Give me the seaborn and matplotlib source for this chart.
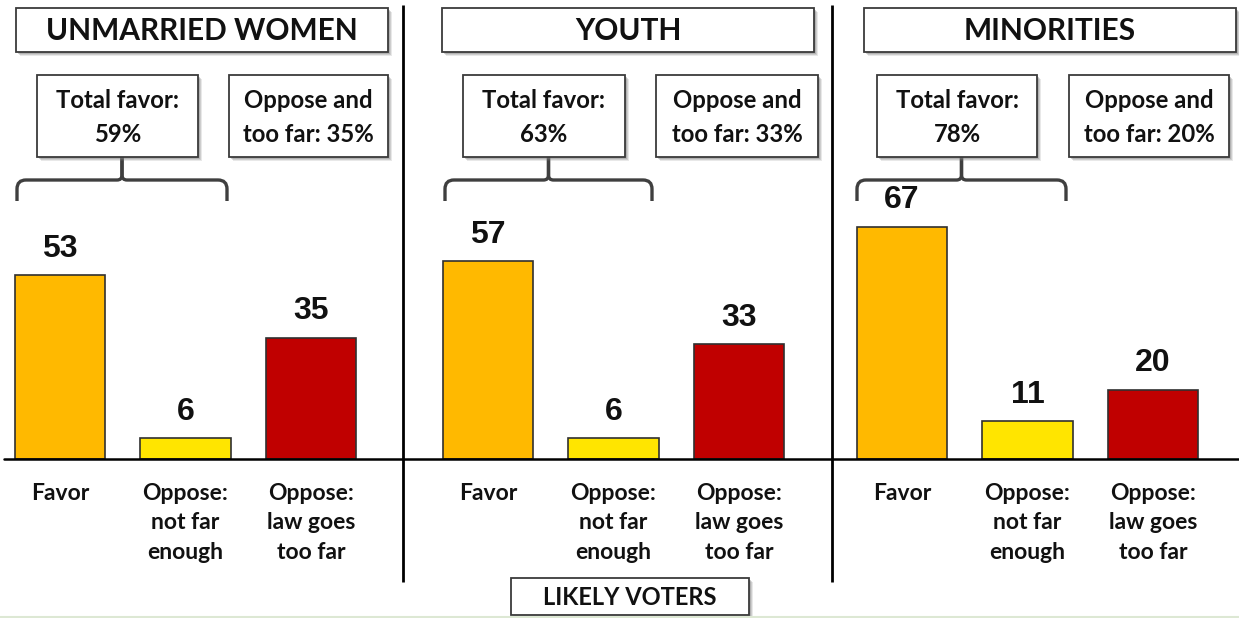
import matplotlib
matplotlib.use("Agg")
import pandas as pd
import matplotlib.pyplot as plt
from matplotlib.patches import Rectangle, PathPatch
from matplotlib.path import Path
import seaborn as sns

# ---- data -------------------------------------------------------------
groups = ["UNMARRIED WOMEN", "YOUTH", "MINORITIES"]
categories = ["Favor", "Oppose:\nnot far\nenough", "Oppose:\nlaw goes\ntoo far"]
favor = [53, 57, 67]
not_far_enough = [6, 6, 11]
goes_too_far = [35, 33, 20]
footer = "LIKELY VOTERS"
bar_colors = ["#FFB900", "#FFE500", "#C00000"]

total_favor = [a + b for a, b in zip(favor, not_far_enough)]

rows = []
for g, vals in zip(groups, zip(favor, not_far_enough, goes_too_far)):
    for c, v in zip(categories, vals):
        rows.append({"group": g, "category": c, "value": v})
df = pd.DataFrame(rows)

# ---- style ------------------------------------------------------------
sns.set_theme(style="white")
plt.rcParams["font.family"] = ["Lato", "DejaVu Sans"]
TEXT = "#111111"
EDGE = "#3a3a3a"

W, H = 1239, 618
fig = plt.figure(figsize=(W / 100, H / 100), dpi=100)
fig.patch.set_facecolor("white")

BASE = 459          # baseline row (px from top)
PX_PER_UNIT = 3.47  # vertical scale of the bars
SLOT = 125.5        # horizontal distance between bar centres (px)
# (left px, right px, centre of first bar px) of each panel
panels = [(4, 403, 60), (403, 832, 488), (832, 1239, 902)]

for g, (l, r, c0) in zip(groups, panels):
    ax = fig.add_axes([l / W, (H - BASE) / H, (r - l) / W, BASE / H])
    sub = df[df["group"] == g]
    sns.barplot(data=sub, x="category", y="value", hue="category",
                order=categories, hue_order=categories, palette=bar_colors,
                saturation=1, width=0.72, edgecolor="#303030", linewidth=1.2,
                legend=False, ax=ax)
    left = -(c0 - l) / SLOT
    ax.set_xlim(left, left + (r - l) / SLOT)
    ax.set_ylim(0, BASE / PX_PER_UNIT)
    ax.patch.set_alpha(0)
    for s in ax.spines.values():
        s.set_visible(False)
    ax.set_yticks([])
    ax.set_xlabel("")
    ax.set_ylabel("")
    ax.tick_params(axis="x", length=0, pad=17, labelsize=16.5, colors=TEXT)
    for lab in ax.get_xticklabels():
        lab.set_fontweight("bold")
        lab.set_linespacing(1.5)
    ax.axhline(0, color="black", lw=1.8, zorder=4, clip_on=False)
    for cont in ax.containers:
        ax.bar_label(cont, fmt="%d", padding=8, fontsize=23, fontweight="bold",
                     family="Liberation Sans", color=TEXT)

# ---- overlay for boxes, braces and separators (pixel coordinates) -----
ov = fig.add_axes([0, 0, 1, 1], zorder=5)
ov.set_xlim(0, W)
ov.set_ylim(H, 0)
ov.axis("off")
ov.patch.set_alpha(0)


def box(x0, y0, x1, y1, text, size, lsp=1.2, dy=0):
    for d, a in ((4, 0.18), (3, 0.25), (2, 0.35)):
        ov.add_patch(Rectangle((x0 + d, y0 + d), x1 - x0, y1 - y0,
                               facecolor="#808080", edgecolor="none", alpha=a))
    ov.add_patch(Rectangle((x0, y0), x1 - x0, y1 - y0, facecolor="white",
                           edgecolor=EDGE, lw=1.3))
    ov.text((x0 + x1) / 2, (y0 + y1) / 2 + dy, text, ha="center", va="center",
            fontsize=size, fontweight="bold", color=TEXT, linespacing=lsp)


def brace(xa, xb, ytop=157, yh=180, ybot=201, r=9, r2=5):
    xm = (xa + xb) / 2
    for x0, sgn in ((xa, 1), (xb, -1)):
        verts = [(x0, ybot), (x0, yh + r), (x0, yh), (x0 + sgn * r, yh),
                 (xm - sgn * r2, yh), (xm, yh), (xm, yh - r2), (xm, ytop)]
        codes = [Path.MOVETO, Path.LINETO, Path.CURVE3, Path.CURVE3,
                 Path.LINETO, Path.CURVE3, Path.CURVE3, Path.LINETO]
        ov.add_patch(PathPatch(Path(verts, codes), facecolor="none",
                               edgecolor="#3f3f3f", lw=2.4, capstyle="butt"))


title_boxes = [(16, 8, 388, 52), (442, 8, 814, 52), (864, 8, 1236, 52)]
favor_boxes = [(37, 75, 198, 157), (463, 75, 625, 157), (877, 75, 1037, 157)]
oppose_boxes = [(229, 75, 388, 157), (656, 75, 818, 157), (1069, 75, 1229, 157)]
braces = [(17, 227), (445, 652), (857, 1066)]

for i, g in enumerate(groups):
    box(*title_boxes[i], g, 21.5, dy=1)
    brace(*braces[i])
    box(*favor_boxes[i], f"Total favor:\n{total_favor[i]}%", 17.2, 1.62, dy=1.5)
    box(*oppose_boxes[i], f"Oppose and\ntoo far: {goes_too_far[i]}%", 17.2, 1.62, dy=1.5)

# panel separators
for x in (403, 832):
    ov.plot([x, x], [5, 582], color="black", lw=2.0, solid_capstyle="butt")

box(511, 578, 749, 615, footer, 17, dy=1)
ov.plot([0, W], [617, 617], color="#dde8d4", lw=1.5)

fig.savefig("out.png", dpi=100, facecolor="white")
